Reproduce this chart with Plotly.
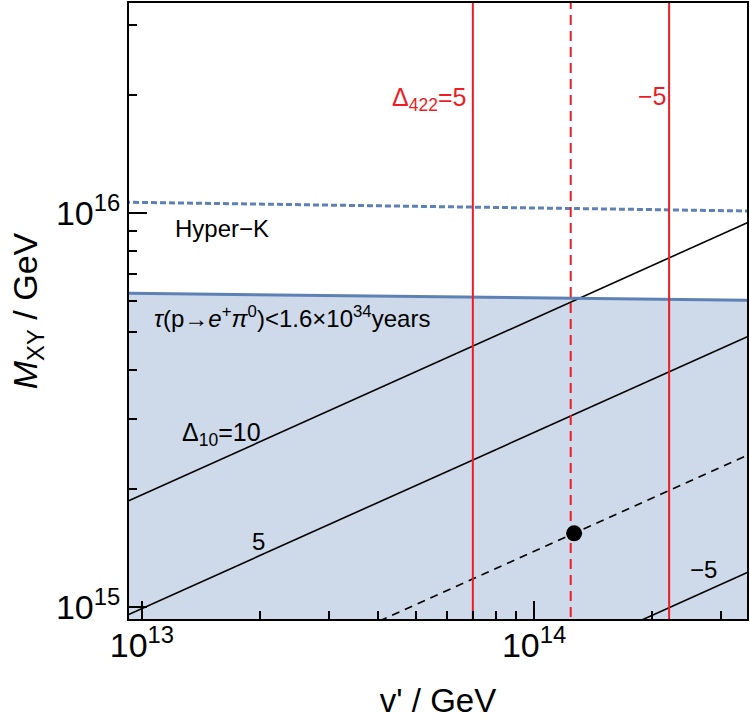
import plotly.graph_objects as go

# ---- data ----
v_ends = [9e12, 4e14]                      # v' endpoints for straight (log-log) contours
M_d10_p10 = [1.84e15, 1.005e16]            # Delta_10 = 10
M_d10_p5 = [9.47e14, 5.16e15]              # Delta_10 = 5
M_d10_0 = [4.71e14, 2.58e15]               # Delta_10 = 0 (dashed)
M_d10_m5 = [2.38e14, 1.30e15]              # Delta_10 = -5
M_pdecay = [6.27e15, 6.01e15]              # tau(p->e+ pi0) bound
M_hyperk = [1.067e16, 1.012e16]            # Hyper-K sensitivity
v_d422 = [6.98e13, 1.24e14, 2.21e14]       # Delta_422 = 5, 0, -5
d422_dash = ["solid", "10px,6px", "solid"]
bench_v = [1.265e14]
bench_M = [1.54e15]
M_fill_floor = [1e14, 1e14]
M_vline = [1e14, 1e17]

x_ticks = [1e13, 1e14]
x_ticktext = ["10<sup>13</sup>", "10<sup>14</sup>"]
y_ticks = [1e15, 1e16]
y_ticktext = ["10<sup>15</sup>", "10<sup>16</sup>"]
x_minor = [m * 10**e for e in (12, 13, 14) for m in range(2, 10)]
y_minor = [m * 10**e for e in (14, 15, 16) for m in range(2, 10)]

FONT = "Liberation Sans, Arial, sans-serif"
BLUE = "#5E81B5"
RED = "#ee1c24"

fig = go.Figure()

# excluded region (filled)
fig.add_trace(go.Scatter(
    x=v_ends + v_ends[::-1], y=M_pdecay + M_fill_floor,
    fill="toself", fillcolor="rgba(94,129,181,0.30)",
    line=dict(width=0), mode="lines", hoverinfo="skip", showlegend=False))

# Delta_10 contours
for M, dash in [(M_d10_p10, "solid"), (M_d10_p5, "solid"),
                (M_d10_0, "8px,6px"), (M_d10_m5, "solid")]:
    fig.add_trace(go.Scatter(x=v_ends, y=M, mode="lines",
                             line=dict(color="black", width=1.6, dash=dash),
                             showlegend=False))

# proton decay bound and Hyper-K
fig.add_trace(go.Scatter(x=v_ends, y=M_pdecay, mode="lines",
                         line=dict(color=BLUE, width=3), showlegend=False))
fig.add_trace(go.Scatter(x=v_ends, y=M_hyperk, mode="lines",
                         line=dict(color=BLUE, width=3, dash="6px,3px"),
                         showlegend=False))

# Delta_422 vertical lines
for v, dash in zip(v_d422, d422_dash):
    fig.add_trace(go.Scatter(x=[v, v], y=M_vline, mode="lines",
                             line=dict(color=RED, width=2, dash=dash),
                             showlegend=False))

# benchmark point
fig.add_trace(go.Scatter(x=bench_v, y=bench_M, mode="markers",
                         marker=dict(color="black", size=16), showlegend=False))

def ann(x, y, text, size, color="black", xanchor="left"):
    fig.add_annotation(x=x, y=y, xref="x", yref="y", text=text, showarrow=False,
                       xanchor=xanchor, yanchor="middle",
                       font=dict(family=FONT, size=size, color=color))

ann(13.079, 15.962, "Hyper\u2212K", 24)
ann(13.026, 15.737, "<i>\u03c4</i>(p\u2192<i>e</i><sup>+</sup><i>\u03c0</i><sup>0</sup>)&lt;1.6\u00d710<sup>34</sup>years", 24)
ann(13.097, 15.44, "\u0394<sub>10</sub>=10", 25)
ann(13.298, 15.167, "5", 24, xanchor="center")
ann(14.431, 15.096, "\u22125", 24, xanchor="center")
ann(13.633, 16.29, "\u0394<sub>422</sub>=5", 25, color=RED)
ann(14.301, 16.299, "\u22125", 25, color=RED, xanchor="center")

axis_common = dict(type="log", showgrid=False, zeroline=False,
                   showline=True, linecolor="black", linewidth=2, mirror=True,
                   ticks="inside", ticklen=18, tickwidth=2, tickcolor="black",
                   tickfont=dict(family=FONT, size=34, color="black"))

fig.update_xaxes(**axis_common, range=[12.967, 14.543],
                 tickmode="array", tickvals=x_ticks, ticktext=x_ticktext,
                 ticklabelstandoff=-5,
                 minor=dict(tickmode="array", tickvals=x_minor, ticks="inside",
                            ticklen=8, tickwidth=2, tickcolor="black"),
                 title=dict(text="v' / GeV", font=dict(family=FONT, size=33, color="black"),
                            standoff=26))
fig.update_yaxes(**axis_common, range=[14.970, 16.534],
                 tickmode="array", tickvals=y_ticks, ticktext=y_ticktext,
                 minor=dict(tickmode="array", tickvals=y_minor, ticks="inside",
                            ticklen=8, tickwidth=2, tickcolor="black"),
                 title=dict(text="<i>M</i><sub>XY</sub> / GeV",
                            font=dict(family=FONT, size=34, color="black"),
                            standoff=8))

fig.update_layout(width=750, height=723,
                  margin=dict(l=129, r=3, t=1, b=104),
                  plot_bgcolor="white", paper_bgcolor="white",
                  showlegend=False)

fig.write_html("out.html")
